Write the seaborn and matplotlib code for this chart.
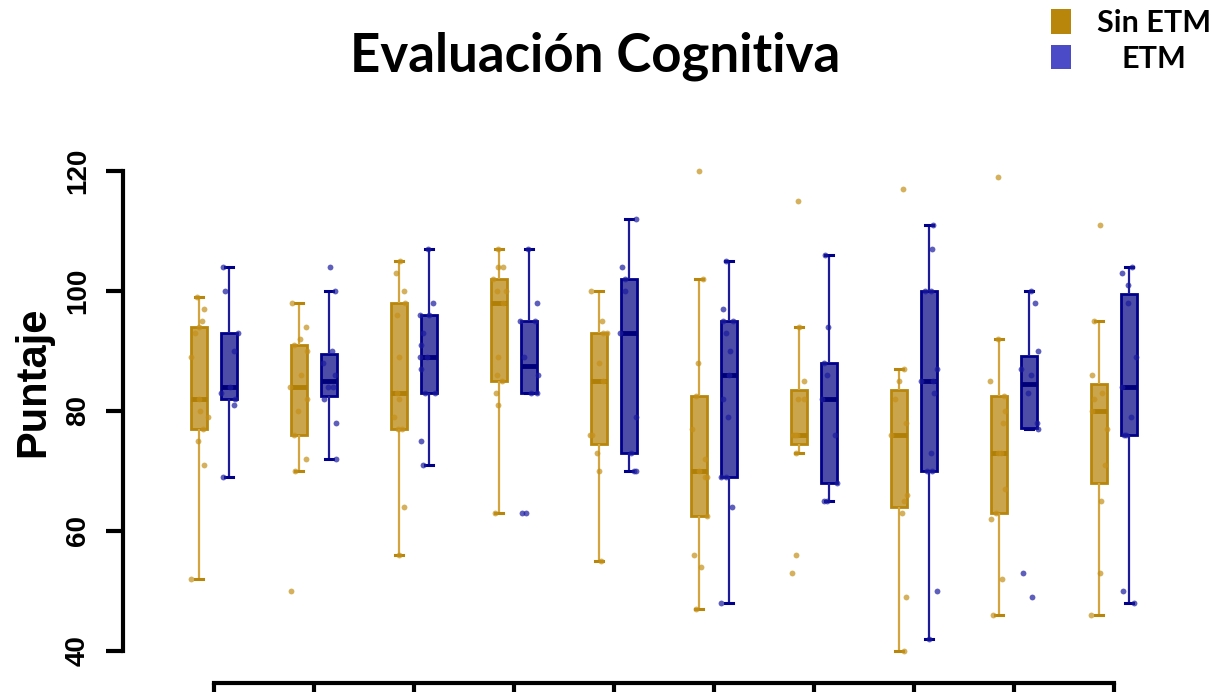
import numpy as np
import pandas as pd
import matplotlib
matplotlib.use("Agg")
import matplotlib.pyplot as plt
import seaborn as sns
from matplotlib.patches import Patch

# ---------------- data ----------------
grupos = [str(i) for i in range(1, 11)]
condiciones = ["Sin ETM", "ETM"]

sin_etm = [
    [52, 71, 75, 77, 79, 80, 82, 89, 93, 94, 95, 97, 99],
    [50, 70, 72, 76, 80, 82, 84, 86, 90, 91, 92, 94, 98],
    [56, 64, 77, 77, 79, 82, 83, 89, 96, 98, 100, 103, 105],
    [63, 81, 83, 85, 86, 89, 98, 100, 100, 102, 104, 104, 107],
    [55, 70, 73, 76, 76, 85, 88, 93, 93, 95, 100],
    [47, 54, 56, 62.5, 69, 69, 70, 72, 77, 82.5, 88, 102, 120],
    [53, 56, 73, 76, 76, 76, 82, 82, 85, 94, 115],
    [40, 49, 63, 65, 66, 76, 78, 82, 85, 87, 117],
    [46, 52, 62, 63, 67, 73, 73, 78, 80, 82.5, 85, 92, 119],
    [46, 53, 65, 71, 77, 80, 82, 83, 86, 95, 111],
]
etm = [
    [69, 81, 82, 83, 84, 90, 93, 100, 104],
    [72, 78, 82, 84, 84, 86, 88, 90, 100, 104],
    [71, 75, 83, 83, 87, 89, 89, 91, 93, 96, 96, 98, 107],
    [63, 63, 83, 83, 86, 89, 95, 95, 98, 107],
    [70, 70, 73, 79, 93, 100, 102, 104, 112],
    [48, 64, 69, 69, 79, 82, 86, 90, 93, 95, 95, 97, 105],
    [65, 65, 68, 76, 82, 86, 88, 94, 106],
    [42, 50, 70, 70, 73, 83, 85, 85, 87, 100, 100, 107, 111],
    [49, 53, 77, 78, 83, 86, 87, 90, 98, 100],
    [48, 50, 76, 76, 79, 84, 89, 98, 101, 103, 104],
]
y_ticks = [40, 60, 80, 100, 120]

# ---------------- styles ----------------
dodge = {"Sin ETM": -0.15, "ETM": 0.15}
estilos = {
    "Sin ETM": dict(fill="#CBA54C", edge="#B8860B", whisker="#D2A540",
                    median="#B07F08", point="#C4901A", legend="#B8860B"),
    "ETM": dict(fill="#4D4DA8", edge="#00008B", whisker="#1C1C98",
                median="#00007A", point="#1A1AA0", legend="#4B4BC8"),
}

rows = []
for gi, g in enumerate(grupos):
    for cond, series in (("Sin ETM", sin_etm), ("ETM", etm)):
        for v in series[gi]:
            rows.append({"grupo": g, "cond": cond, "pos": gi + dodge[cond], "valor": v})
df = pd.DataFrame(rows)

# ---------------- figure ----------------
fig = plt.figure(figsize=(12.1, 6.92), dpi=100)
ax = fig.add_axes([123 / 1210, (692 - 683.4) / 692, (1159 - 123) / 1210, (683.4 - 153) / 692])

np.random.seed(7)
for cond in condiciones:
    sub = df[df["cond"] == cond]
    st = estilos[cond]
    sns.boxplot(data=sub, x="pos", y="valor", native_scale=True, orient="x", ax=ax,
                width=0.16, color=st["fill"], saturation=1, linecolor=st["edge"],
                linewidth=2.0, showfliers=False, whis=1.5,
                whiskerprops=dict(color=st["whisker"], linewidth=1.6),
                capprops=dict(color=st["edge"], linewidth=2.2),
                medianprops=dict(color=st["median"], linewidth=3.5),
                legend=False, zorder=2)
    sns.stripplot(data=sub, x="pos", y="valor", native_scale=True, orient="x", ax=ax,
                  jitter=0.09, size=4.2, color=st["point"], alpha=0.7, linewidth=0,
                  zorder=3, legend=False)

ax.set_xlim(-0.91, 9.45)
ax.set_ylim(34.6, 123)
ax.set_xticks(range(len(grupos)))
ax.set_xticklabels(grupos)
ax.tick_params(axis="x", labelbottom=False, length=14, width=3, direction="out")
ax.set_yticks(y_ticks)
ax.set_yticklabels([str(t) for t in y_ticks])
ax.tick_params(axis="y", length=12, width=3, pad=11, labelsize=20, labelrotation=90)
for lab in ax.get_yticklabels():
    lab.set_fontweight("bold")
    lab.set_fontfamily("Liberation Sans")
    lab.set_va("center")
ax.set_xlabel("")
ax.set_ylabel("")
for s in ("top", "right"):
    ax.spines[s].set_visible(False)
ax.spines["left"].set_bounds(40, 120)
ax.spines["bottom"].set_bounds(0, len(grupos) - 1)
for s in ("left", "bottom"):
    ax.spines[s].set_linewidth(3)
ax.set_facecolor("white")

fig.text(33 / 1210, 1 - 382 / 692, "Puntaje", rotation=90, ha="center", va="center",
         fontsize=30, fontweight="bold", family="Liberation Sans")
fig.text(595 / 1210, 1 - 56 / 692, "Evaluación Cognitiva", ha="center", va="center",
         fontsize=38, fontweight="bold", family="Lato")

handles = [Patch(facecolor=estilos[c]["legend"], edgecolor="none") for c in condiciones]
leg = fig.legend(handles, condiciones, loc="upper left",
                 bbox_to_anchor=(1051 / 1210, 1 - 9 / 692), frameon=False,
                 prop=dict(family="Lato", weight="bold", size=22),
                 handlelength=0.65, handleheight=0.85, handletextpad=0.85,
                 labelspacing=0.25, borderpad=0, borderaxespad=0)
fig.canvas.draw()
txts = leg.get_texts()
w0 = txts[0].get_window_extent().width
w1 = txts[1].get_window_extent().width
txts[1].set_position(((w0 - w1) / 2, 0))

fig.savefig("out.png", dpi=100, facecolor="white")
